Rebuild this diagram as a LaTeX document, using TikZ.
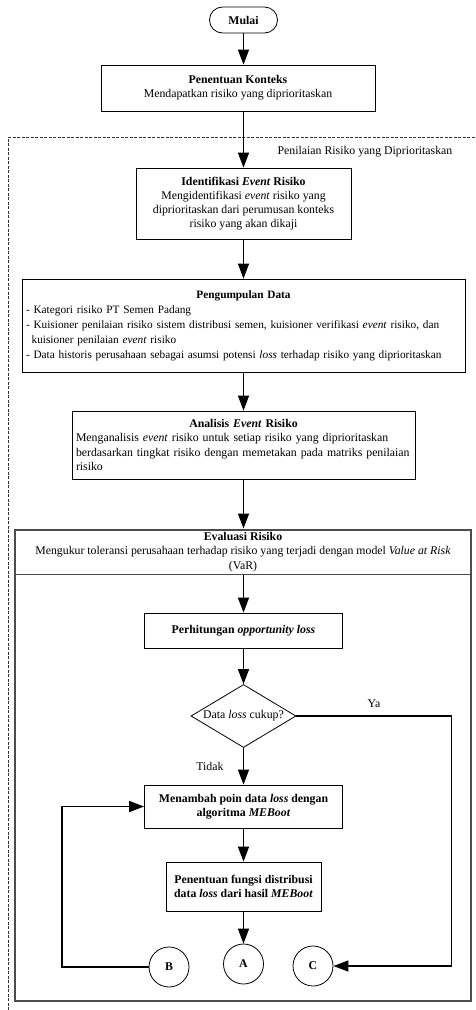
\documentclass[tikz,border=0pt]{standalone}
\usepackage{fontspec}
\setmainfont{Liberation Serif}
\usetikzlibrary{arrows.meta,shapes.geometric}

\hyphenpenalty=10000
\newcommand\flowfont{\fontsize{11.8}{14.2}\selectfont}

\tikzset{
	box/.style={draw,rectangle,line width=0.8pt,align=center,inner sep=3pt},
	boldbox/.style={box,font=\flowfont\bfseries},
	konektor/.style={draw,circle,line width=0.8pt,minimum size=40pt,inner sep=0pt,font=\flowfont\bfseries},
	flow/.style={line width=1.4pt,-{Triangle[length=15pt,width=11pt]}},
}

\begin{document}
\begin{tikzpicture}[x=1pt,y=-1pt,font=\flowfont]
		\useasboundingbox (0,0) rectangle (475,1010);
		% kerangka penilaian risiko
		\draw[line width=0.8pt,dash pattern=on 3pt off 1.5pt,black!80] (8,1010) |- (475,137);
		\node (penilaian) at (365,152) {Penilaian Risiko yang Diprioritaskan};
		\draw[gray!60!black,line width=1.2pt] (15,530) rectangle (471,1001);
		% langkah utama
		\node[draw,rounded corners=13pt,minimum width=68pt,minimum height=26pt,line width=0.8pt,font=\flowfont\bfseries] (mulai) at (243.5,20) {Mulai};
		\node[box,minimum width=274pt,minimum height=46pt] (konteks) at (238,88) {\textbf{Penentuan Konteks}\\Mendapatkan risiko yang diprioritaskan};
		\node[box,minimum width=215pt,minimum height=71pt] (identifikasi) at (243.5,203.5) {\textbf{Identifikasi \textit{Event} Risiko}\\Mengidentifikasi \textit{event} risiko yang\\diprioritaskan dari perumusan konteks\\risiko yang akan dikaji};
		\node[box,text width=435pt,inner xsep=4pt,minimum height=93pt,align=left,font=\fontsize{11.3}{15}\selectfont] (pengumpulan) at (243.5,325.5) {{\centering\textbf{Pengumpulan Data}\par}- Kategori risiko PT Semen Padang\\- Kuisioner penilaian risiko sistem distribusi semen, kuisioner verifikasi \textit{event} risiko, dan\\\hspace*{0.5em}kuisioner penilaian \textit{event} risiko\\- Data historis perusahaan sebagai asumsi potensi \textit{loss} terhadap risiko yang diprioritaskan};
		\node[box,text width=335pt,inner xsep=4pt,minimum height=68pt,align=left] (analisis) at (243.5,445) {{\centering\textbf{Analisis \textit{Event} Risiko}\par}Menganalisis \textit{event} risiko untuk setiap risiko yang diprioritaskan\\berdasarkan tingkat risiko dengan memetakan pada matriks penilaian\\risiko};
		\node[draw=gray!60!black,line width=1.2pt,minimum width=456pt,minimum height=44pt,align=center] (evaluasi) at (243,552) {\textbf{Evaluasi Risiko}\\Mengukur toleransi perusahaan terhadap risiko yang terjadi dengan model \textit{Value at Risk}\\(VaR)};
		% evaluasi VaR
		\node[boldbox,minimum width=198pt,minimum height=35pt] (hitung) at (243.5,630.5) {Perhitungan \textit{opportunity loss}};
		\node[draw,diamond,aspect=1.67,line width=0.8pt,minimum width=105pt,minimum height=63pt,inner sep=0pt] (cek) at (243.5,716) {Data \textit{loss} cukup?};
		\node[boldbox,minimum width=198pt,minimum height=43pt] (menambah) at (243.5,806.5) {Menambah poin data \textit{loss} dengan\\algoritma \textit{MEBoot}};
		\node[boldbox,minimum width=155pt,minimum height=49pt] (fungsi) at (243.5,886.5) {Penentuan fungsi distribusi\\data \textit{loss} dari hasil \textit{MEBoot}};
		\node[konektor] (B) at (169,967) {B};
		\node[konektor] (A) at (243.5,964) {A};
		\node[konektor] (C) at (313,966) {C};
		\coordinate (kanan) at (451.5,0);
		\coordinate (kiri) at (62,0);
		% panah
		\draw[flow] (mulai) -- (mulai |- konteks.north);
		\draw[flow] (konteks.south -| mulai) -- (identifikasi);
		\draw[flow] (identifikasi) -- (pengumpulan);
		\draw[flow] (pengumpulan) -- (analisis);
		\draw[flow] (analisis) -- (analisis |- evaluasi.north);
		\draw[flow] (evaluasi.south -| hitung) -- (hitung);
		\draw[flow] (hitung) -- (cek);
		\draw[flow] (cek) -- node[left=16pt] {Tidak} (menambah);
		\draw[flow] (menambah) -- (fungsi);
		\draw[flow] (fungsi) -- (A);
		\draw[flow] (cek.east) -- node[above=4pt] {Ya} (cek.east -| kanan) |- (C.east);
		\draw[flow] (B.west) -- (B.west -| kiri) |- (menambah.west);
	\end{tikzpicture}
\end{document}
